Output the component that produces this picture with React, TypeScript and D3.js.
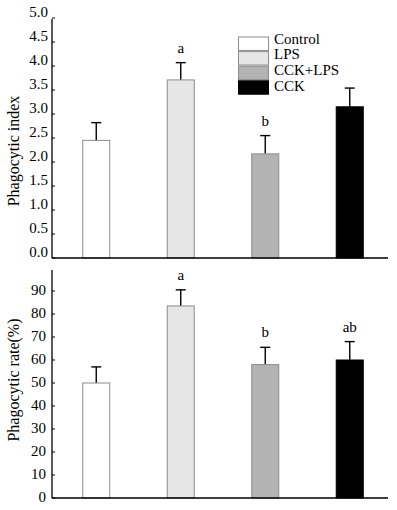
import React from "react";
import * as d3 from "d3";

// groups in the order they appear on the x axis
const groups = ["Control", "LPS", "CCK+LPS", "CCK"];

// top panel: phagocytic index (mean, mean + sd)
const indexMean = [2.45, 3.71, 2.17, 3.15];
const indexTop = [2.82, 4.07, 2.55, 3.54];
const indexSig = ["", "a", "b", ""];
const indexTicks = [0, 0.5, 1, 1.5, 2, 2.5, 3, 3.5, 4, 4.5, 5];

// bottom panel: phagocytic rate in %
const rateMean = [50, 83.5, 58, 60];
const rateTop = [57, 90.5, 65.5, 68];
const rateSig = ["", "a", "b", "ab"];
const rateTicks = [0, 10, 20, 30, 40, 50, 60, 70, 80, 90];

const fills = ["#ffffff", "#e6e6e6", "#b3b3b3", "#000000"];
const strokes = ["#8c8c8c", "#8c8c8c", "#8c8c8c", "#000000"];

const textStyle = { fontFamily: "Liberation Serif, serif", fontSize: "15px" };
const titleStyle = { fontFamily: "Liberation Serif, serif", fontSize: "16px" };

interface PanelProps {
  mean: number[];
  top: number[];
  sig: string[];
  ticks: number[];
  domain: [number, number];
  yRange: [number, number];
  axisTop: number;
  title: string;
  titleY: number;
  fmt: (v: number) => string;
  labelDy: number;
  labelX: number;
}

function Panel({ mean, top, sig, ticks, domain, yRange, axisTop, title, titleY, fmt, labelDy, labelX }: PanelProps) {
  const x = d3.scaleBand<string>()
    .domain(groups)
    .range([54, 392])
    .paddingInner(0.68)
    .paddingOuter(0.34);
  const y = d3.scaleLinear().domain(domain).range(yRange);
  const base = yRange[0];
  const axisX = 52;

  return (
    <g>
      {groups.map((g, i) => {
        const cx = x(g)! + x.bandwidth() / 2;
        return (
          <g key={g}>
            <line x1={cx} x2={cx} y1={y(mean[i])} y2={y(top[i])} stroke="#000" strokeWidth={1.4} />
            <line x1={cx - 5} x2={cx + 5} y1={y(top[i])} y2={y(top[i])} stroke="#000" strokeWidth={1.4} />
            <rect
              x={x(g)}
              y={y(mean[i])}
              width={x.bandwidth()}
              height={base - y(mean[i])}
              fill={fills[i]}
              stroke={strokes[i]}
              strokeWidth={1}
            />
            {sig[i] && (
              <text x={cx} y={y(top[i]) - 10} textAnchor="middle" style={textStyle}>
                {sig[i]}
              </text>
            )}
          </g>
        );
      })}
      {/* axes */}
      <line x1={axisX} x2={axisX} y1={axisTop} y2={base} stroke="#000" strokeWidth={1.3} />
      <line x1={axisX} x2={388} y1={base} y2={base} stroke="#000" strokeWidth={1.3} />
      {ticks.map((t) => (
        <g key={t}>
          <line x1={axisX} x2={axisX + 3} y1={y(t)} y2={y(t)} stroke="#000" strokeWidth={1} />
          <text x={labelX} y={y(t) + labelDy} textAnchor="end" style={textStyle} fill="#000">
            {fmt(t)}
          </text>
        </g>
      ))}
      <text transform={`translate(19,${titleY}) rotate(-90)`} textAnchor="middle" style={titleStyle}>
        {title}
      </text>
    </g>
  );
}

export default function App() {
  return (
    <svg
      width={397}
      height={510}
      viewBox="0 0 397 510"
      style={{ position: "absolute", left: 0, top: 0, background: "#fff" }}
    >
      <rect width={397} height={510} fill="#fff" />
      <Panel
        mean={indexMean}
        top={indexTop}
        sig={indexSig}
        ticks={indexTicks}
        domain={[0, 5]}
        yRange={[258, 18]}
        axisTop={19}
        title="Phagocytic index"
        titleY={151}
        fmt={d3.format(".1f")}
        labelDy={-1}
        labelX={48}
      />
      <Panel
        mean={rateMean}
        top={rateTop}
        sig={rateSig}
        ticks={rateTicks}
        domain={[0, 100]}
        yRange={[498, 268]}
        axisTop={270}
        title="Phagocytic rate(%)"
        titleY={380}
        fmt={d3.format("d")}
        labelDy={4}
        labelX={46}
      />
      {/* legend */}
      {groups.map((g, i) => (
        <g key={g}>
          <rect
            x={238.5}
            y={37 + i * 14.6}
            width={30}
            height={13.4}
            fill={fills[i]}
            stroke={strokes[i]}
            strokeWidth={1}
          />
          <text x={274} y={43.5 + i * 15.9} style={textStyle}>
            {g}
          </text>
        </g>
      ))}
    </svg>
  );
}
